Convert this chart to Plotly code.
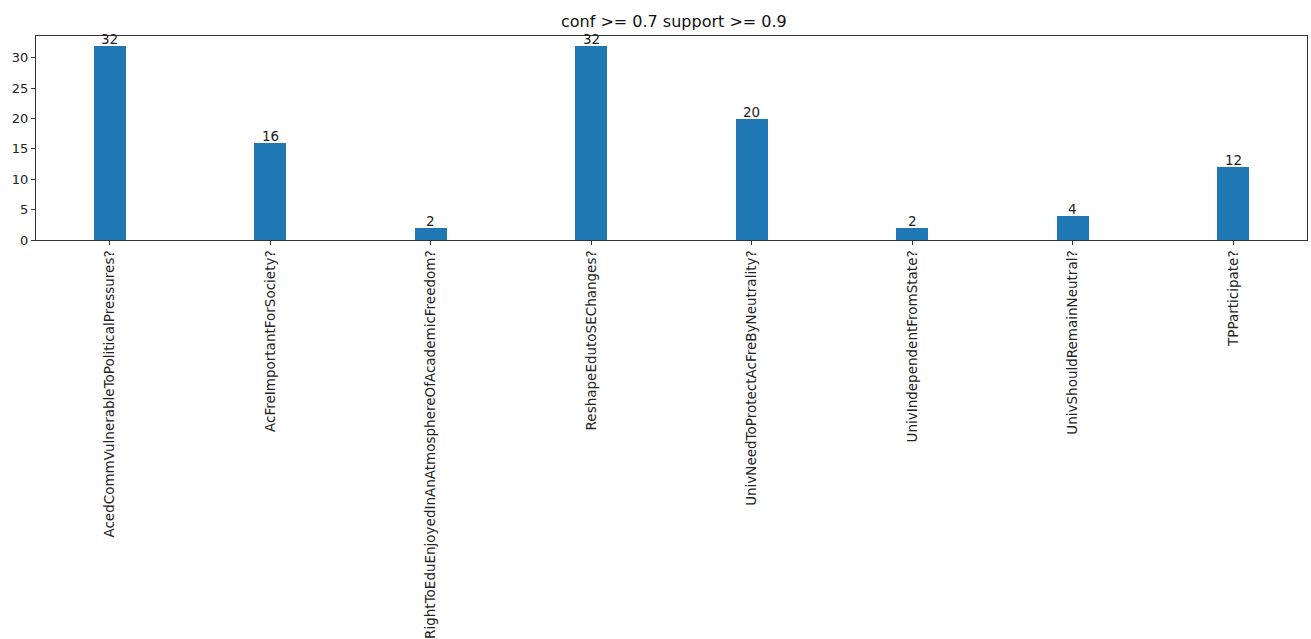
import plotly.graph_objects as go

categories = [
    "AcedCommVulnerableToPoliticalPressures?",
    "AcFreImportantForSociety?",
    "RightToEduEnjoyedInAnAtmosphereOfAcademicFreedom?",
    "ReshapeEdutoSEChanges?",
    "UnivNeedToProtectAcFreByNeutrality?",
    "UnivIndependentFromState?",
    "UnivShouldRemainNeutral?",
    "TPParticipate?",
]
counts = [32, 16, 2, 32, 20, 2, 4, 12]
positions = list(range(len(categories)))
yticks = [0, 5, 10, 15, 20, 25, 30]

fig = go.Figure()
fig.add_trace(go.Bar(
    x=positions, y=counts, width=0.2,
    marker=dict(color="#1f77b4", line=dict(width=0)),
    cliponaxis=False,
))

for p, c in zip(positions, counts):
    fig.add_annotation(
        x=p, y=c, text=str(c), showarrow=False,
        xanchor="center", yanchor="bottom", yshift=-3,
        font=dict(family="DejaVu Sans", size=13.5, color="#222"),
    )

fig.update_layout(
    width=1311, height=639,
    margin=dict(l=36, r=4, t=36, b=399, autoexpand=False),
    paper_bgcolor="white", plot_bgcolor="white",
    showlegend=False,
    font=dict(family="DejaVu Sans", size=13, color="#222"),
    title=dict(text="conf >= 0.7 support >= 0.9", x=0.514, xanchor="center",
               y=1 - 21 / 639, yanchor="middle",
               font=dict(family="DejaVu Sans", size=16, color="#111")),
    bargap=0,
)
fig.update_xaxes(
    range=[-0.46, 7.46], tickmode="array", tickvals=positions, ticktext=categories,
    tickangle=-90, ticks="outside", ticklen=4, tickcolor="#333",
    showline=True, linecolor="#333", linewidth=1, mirror=True,
    showgrid=False, zeroline=False, automargin=False,
    tickfont=dict(family="DejaVu Sans", size=13.5, color="#222"),
)
fig.update_yaxes(
    range=[0, 33.6], tickmode="array", tickvals=yticks,
    ticks="outside", ticklen=4, tickcolor="#333",
    showline=True, linecolor="#333", linewidth=1, mirror=True,
    showgrid=False, zeroline=False, automargin=False,
    tickfont=dict(family="DejaVu Sans", size=13, color="#222"),
)

fig.write_html(
    "out.html",
    config={"displayModeBar": False},
    post_script="document.body.style.margin='0';document.body.style.overflow='hidden';",
)
